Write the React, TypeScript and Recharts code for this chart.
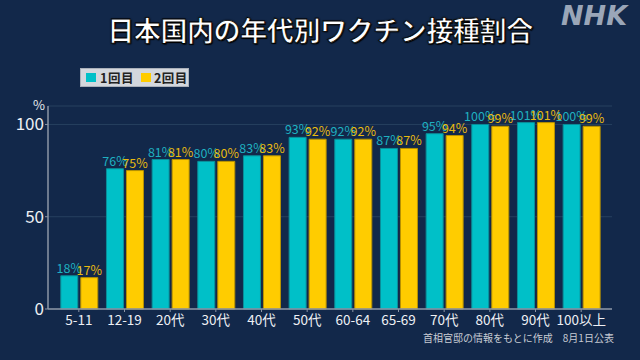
import React from 'react';
import { BarChart, Bar, XAxis, YAxis, CartesianGrid, LabelList } from 'recharts';

const ageGroups = ['5-11', '12-19', '20代', '30代', '40代', '50代', '60-64', '65-69', '70代', '80代', '90代', '100以上'];
const firstDose = [18, 76, 81, 80, 83, 93, 92, 87, 95, 100, 101, 100];
const secondDose = [17, 75, 81, 80, 83, 92, 92, 87, 94, 99, 101, 99];
const yTicks = [0, 50, 100];

const data = ageGroups.map((name, i) => ({ name, first: firstDose[i], second: secondDose[i] }));

const BG = '#12284a';
const TEAL = '#00c0c8';
const YELLOW = '#ffcc00';
const FONT = '"Noto Sans CJK JP", "Noto Sans", sans-serif';

const makeLabel = (color: string) => (props: any) => {
  const { x, y, width, value } = props;
  return (
    <text x={x + width / 2} y={y - 3} fill={color} fontSize={12.5} textAnchor="middle" fontFamily={FONT}>
      {value}%
    </text>
  );
};

const App: React.FC = () => {
  return (
    <div style={{ position: 'relative', width: 640, height: 360, background: BG, fontFamily: FONT, overflow: 'hidden' }}>
      <style>{'body{margin:0}'}</style>
      <div
        style={{
          position: 'absolute', left: 0, width: 640, top: 12, textAlign: 'center',
          color: '#fff', fontSize: 27, fontWeight: 700, letterSpacing: -0.4, lineHeight: '36px',
          WebkitTextStroke: '0.8px #000', textShadow: '0 0 2px #000, 1px 1px 1px #000',
        }}
      >
        日本国内の年代別ワクチン接種割合
      </div>
      <div
        style={{
          position: 'absolute', left: 561, top: 0, color: '#9aa6b8', fontSize: 27, lineHeight: '32px',
          fontWeight: 900, fontStyle: 'italic', fontFamily: '"DejaVu Sans", sans-serif',
        }}
      >
        NHK
      </div>
      <div
        style={{
          position: 'absolute', left: 80, top: 68, width: 109, height: 19, background: '#d3d7dd',
          border: '1px solid #aab0ba', boxSizing: 'border-box', display: 'flex', alignItems: 'center',
          fontSize: 12.5, color: '#222', fontWeight: 700, whiteSpace: 'nowrap', lineHeight: '17px',
        }}
      >
        <span style={{ display: 'inline-block', width: 10, height: 9, background: TEAL, marginLeft: 5, marginRight: 4 }} />
        <span style={{ letterSpacing: 0.5 }}>1回目</span>
        <span style={{ display: 'inline-block', width: 10, height: 9, background: YELLOW, marginLeft: 7, marginRight: 3 }} />
        <span style={{ letterSpacing: 0.5 }}>2回目</span>
      </div>
      <div style={{ position: 'absolute', left: 33, top: 95, color: '#e6e8ec', fontSize: 13 }}>%</div>
      <div style={{ position: 'absolute', left: 423, top: 330, color: '#c8ccd4', fontSize: 10, whiteSpace: 'nowrap' }}>
        首相官邸の情報をもとに作成　8月1日公表
      </div>
      <BarChart
        width={640}
        height={360}
        data={data}
        margin={{ top: 106, right: 28, bottom: 21, left: 0 }}
        barCategoryGap="10.5%"
        barGap={3}
        style={{ position: 'absolute', left: 0, top: 0 }}
      >
        <CartesianGrid vertical={false} stroke="#26405f" strokeWidth={1} />
        <XAxis
          dataKey="name"
          height={30}
          padding={{ left: 8, right: 8 }}
          tick={{ fill: '#eef0f4', fontSize: 13.5, fontFamily: FONT }}
          tickSize={3}
          tickMargin={3}
          axisLine={{ stroke: '#8d96a6', strokeWidth: 1.5 }}
          tickLine={{ stroke: '#8d96a6' }}
          interval={0}
        />
        <YAxis
          width={48}
          domain={[0, 110]}
          ticks={yTicks}
          tick={{ fill: '#eef0f4', fontSize: 17, fontFamily: FONT }}
          tickSize={3}
          tickMargin={1}
          axisLine={{ stroke: '#8d96a6', strokeWidth: 1.5 }}
          tickLine={{ stroke: '#8d96a6' }}
        />
        <Bar dataKey="first" fill={TEAL} stroke="#0a8f9a" strokeWidth={1} isAnimationActive={false}>
          <LabelList dataKey="first" content={makeLabel('#1fb0c0')} />
        </Bar>
        <Bar dataKey="second" fill={YELLOW} stroke="#b89200" strokeWidth={1} isAnimationActive={false}>
          <LabelList dataKey="second" content={makeLabel('#e8ba10')} />
        </Bar>
      </BarChart>
    </div>
  );
};

export default App;
